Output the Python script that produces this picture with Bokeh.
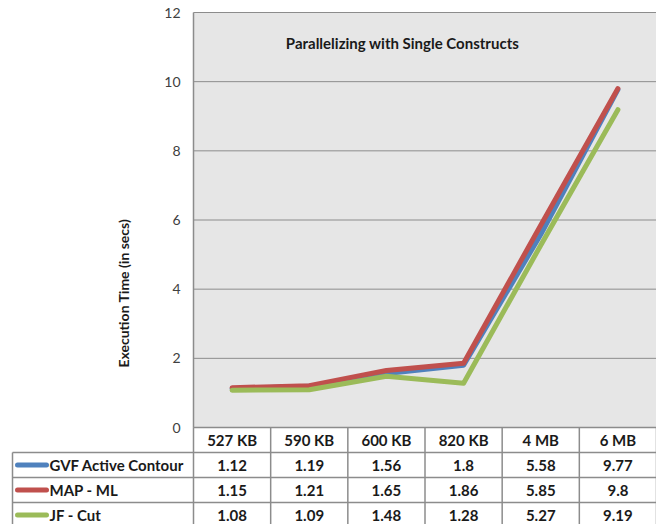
from bokeh.plotting import figure
from bokeh.models import Range1d
from bokeh.core.properties import value
from bokeh.embed import file_html
from bokeh.resources import INLINE

# ---- data ----
categories = ["527 KB", "590 KB", "600 KB", "820 KB", "4 MB", "6 MB"]
series_names = ["GVF Active Contour", "MAP - ML", "JF - Cut"]
gvf = [1.12, 1.19, 1.56, 1.8, 5.58, 9.77]
map_ml = [1.15, 1.21, 1.65, 1.86, 5.85, 9.8]
jf_cut = [1.08, 1.09, 1.48, 1.28, 5.27, 9.19]
y_ticks = [0, 2, 4, 6, 8, 10, 12]
chart_title = "Parallelizing with Single Constructs"
y_label = "Execution Time  (in secs)"

# ---- layout constants (pixels -> data units) ----
W, H = 656, 524
LEFT_PX = 193         # plot area starts here inside figure
TOP_PX = 12
BOTTOM_PX = 427       # y = 0
PX_X = (W - LEFT_PX) / 6.0
PX_Y = (BOTTOM_PX - TOP_PX) / 12.0
ROW_PX = 25

def dx(px):
    return (px - LEFT_PX) / PX_X

def dy(px):
    return 12 - (px - TOP_PX) / PX_Y

y_top = dy(0)
y_bot = dy(H)
row_h = ROW_PX / PX_Y

p = figure(width=W, height=H, x_range=Range1d(dx(0), dx(W)), y_range=Range1d(y_bot, y_top),
           min_border=0, x_axis_location=None, y_axis_location=None,
           toolbar_location=None, output_backend="svg", outline_line_color=None,
           background_fill_color="white", border_fill_color="white")
p.xgrid.visible = False
p.ygrid.visible = False

FONT = value("Lato")
n = len(categories)
xs = [i + 0.5 for i in range(n)]
ymax = y_ticks[-1]

# plot area
p.quad(left=0, right=n, bottom=0, top=ymax, fill_color="#e6e6e6", line_color=None)
grid_col = "#8c8c8c"
p.segment(x0=[0] * len(y_ticks), x1=[n] * len(y_ticks), y0=y_ticks, y1=y_ticks,
          line_color=grid_col, line_width=1)
p.segment(x0=[0], x1=[0], y0=[0], y1=[ymax], line_color=grid_col, line_width=1.5)

# y tick labels
p.text(x=[dx(180)] * len(y_ticks), y=y_ticks, text=[str(t) for t in y_ticks],
       text_align="right", text_baseline="middle", text_font=FONT,
       text_font_size="14px", text_color="#404040")

# y label
p.text(x=[dx(123)], y=[dy(291)], text=[y_label], angle=1.5708,
       text_align="center", text_baseline="middle", text_font=FONT,
       text_font_size="14px", text_font_style="bold", text_color="#1a1a1a")

# title
p.text(x=[dx(402)], y=[dy(42)], text=[chart_title], text_align="center",
       text_baseline="middle", text_font=FONT, text_font_size="15px",
       text_font_style="bold", text_color="#1a1a1a")

# lines
colors = ["#4f81bd", "#c0504d", "#9bbb59"]
all_series = [gvf, map_ml, jf_cut]
for vals, c in zip(all_series, colors):
    p.line(x=xs, y=vals, line_color=c, line_width=5, line_join="round", line_cap="round")

# ---- data table ----
tcol = "#8c8c8c"
x_left = dx(12)
hdr_y = -row_h
row_lines = [hdr_y - k * row_h for k in range(len(all_series) + 1)]
# horizontal lines
p.segment(x0=[0], x1=[n], y0=[0], y1=[0], line_color=tcol, line_width=1.5)
p.segment(x0=[x_left] * len(row_lines), x1=[n] * len(row_lines), y0=row_lines, y1=row_lines,
          line_color=tcol, line_width=1.5)
# vertical lines
p.segment(x0=list(range(n + 1)), x1=list(range(n + 1)), y0=[0] * (n + 1), y1=[y_bot] * (n + 1),
          line_color=tcol, line_width=1.5)
p.segment(x0=[x_left], x1=[x_left], y0=[hdr_y], y1=[y_bot], line_color=tcol, line_width=1.5)

# header
p.text(x=xs, y=[-row_h / 2] * n, text=categories, text_align="center", text_baseline="middle",
       text_font=FONT, text_font_size="15px", text_font_style="bold", text_color="#1a1a1a")

for k, (name, vals, c) in enumerate(zip(series_names, all_series, colors)):
    yc = hdr_y - (k + 0.5) * row_h
    p.text(x=xs, y=[yc] * n, text=[str(v) for v in vals], text_align="center",
           text_baseline="middle", text_font=FONT, text_font_size="15px",
           text_font_style="bold", text_color="#1a1a1a")
    p.segment(x0=[dx(17)], x1=[dx(46)], y0=[yc], y1=[yc], line_color=c, line_width=5,
              line_cap="round")
    p.text(x=[dx(49)], y=[yc], text=[name], text_align="left", text_baseline="middle",
           text_font=FONT, text_font_size="15px", text_font_style="bold",
           text_color="#1a1a1a")

open("out.html", "w").write(file_html(p, INLINE))
